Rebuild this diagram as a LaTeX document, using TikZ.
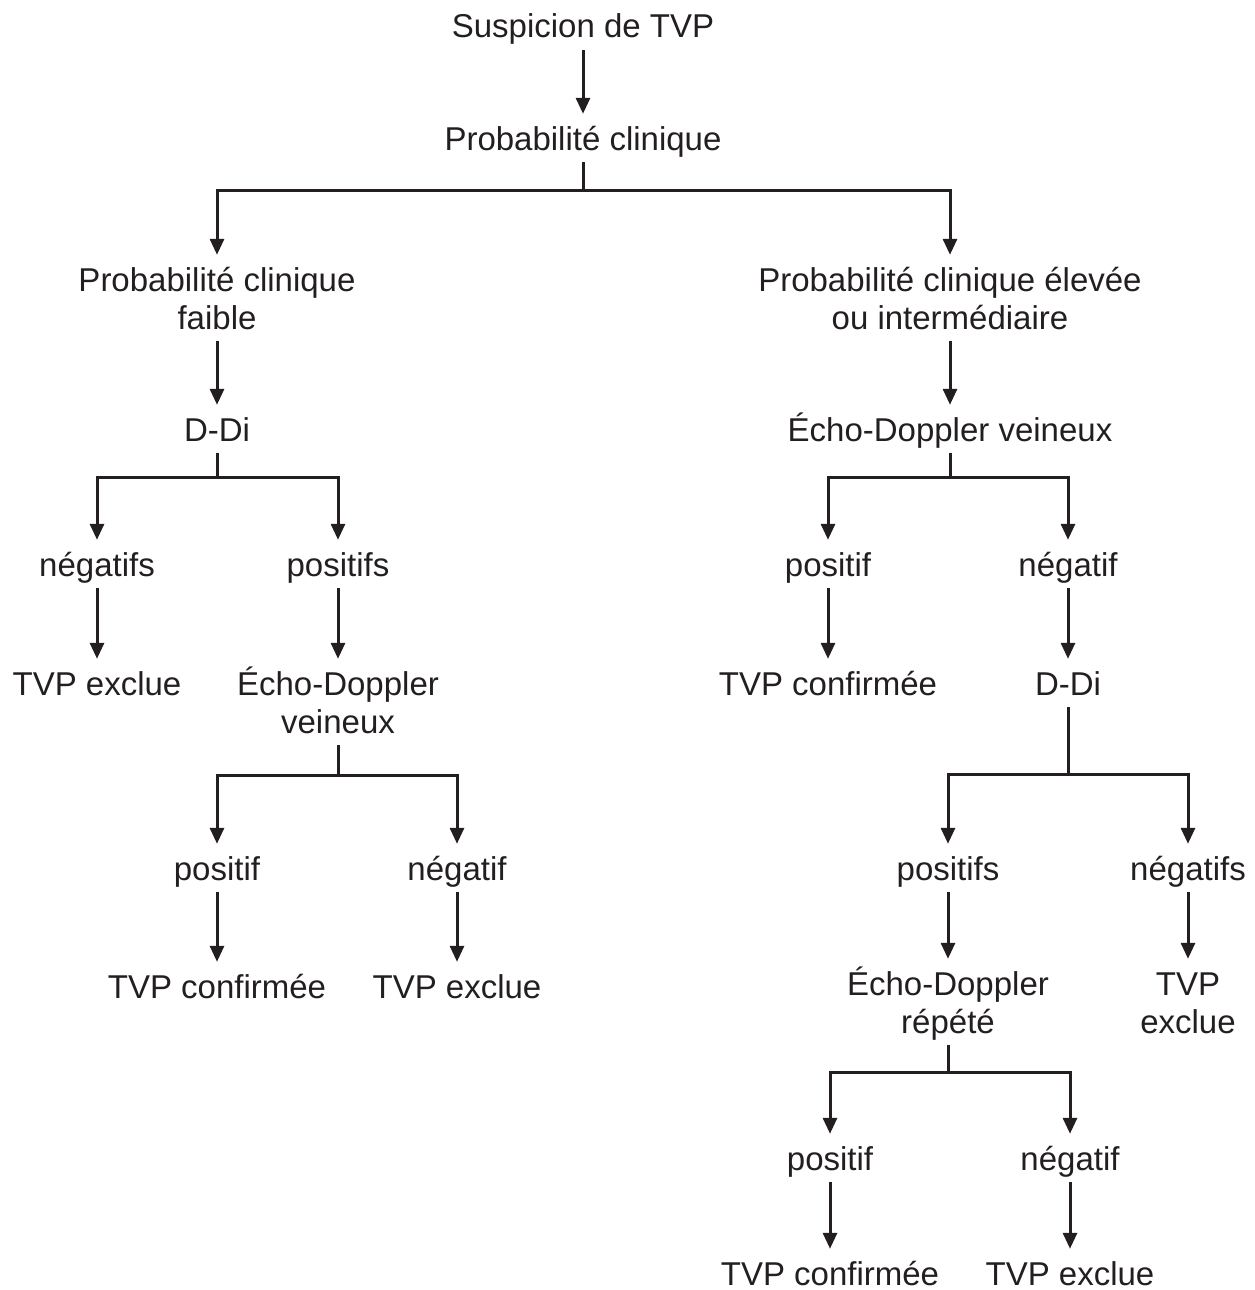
\documentclass[tikz,border=0pt]{standalone}
\usepackage{fontspec}
\setmainfont{Liberation Sans}
\usetikzlibrary{arrows.meta}
\definecolor{ink}{HTML}{231F20}
\newcommand\twol[2]{\begin{tabular}[b]{@{}c@{}}#1\\#2\end{tabular}}
\begin{document}
\begin{tikzpicture}[x=1pt,y=1pt,
 lbl/.style={font=\fontsize{33}{38}\selectfont, text=ink, text height=24pt, text depth=0pt, inner xsep=2pt, inner ysep=12pt, anchor=base},
 two/.style={lbl, text height=62pt},
 arr/.style={draw=ink, line width=3pt, -{Triangle[length=16pt,width=14pt]}}]
\useasboundingbox (0,0) rectangle (1254,-1290);
\node[lbl] (s) at (583,-38) {Suspicion de TVP};
\node[lbl] (p) at (583,-150) {Probabilité clinique};
\node[two] (f) at (217,-329) {\twol{Probabilité clinique}{faible}};
\node[two] (e) at (950,-329) {\twol{Probabilité clinique élevée}{ou intermédiaire}};
\node[lbl] (d1) at (217,-441) {D-Di};
\node[lbl] (e1) at (950,-441) {Écho-Doppler veineux};
\node[lbl] (n1) at (97,-576) {négatifs};
\node[lbl] (p1) at (338,-576) {positifs};
\node[lbl] (x1) at (97,-695) {TVP exclue};
\node[two] (e2) at (338,-733) {\twol{Écho-Doppler}{veineux}};
\node[lbl] (p2) at (217,-880) {positif};
\node[lbl] (n2) at (457,-880) {négatif};
\node[lbl] (c2) at (217,-998) {TVP confirmée};
\node[lbl] (x2) at (457,-998) {TVP exclue};
\node[lbl] (p3) at (828,-576) {positif};
\node[lbl] (n3) at (1068,-576) {négatif};
\node[lbl] (c3) at (828,-695) {TVP confirmée};
\node[lbl] (d3) at (1068,-695) {D-Di};
\node[lbl] (p4) at (948,-880) {positifs};
\node[lbl] (n4) at (1188,-880) {négatifs};
\node[two] (e4) at (948,-1033) {\twol{Écho-Doppler}{répété}};
\node[two] (x4) at (1188,-1033) {\twol{TVP}{exclue}};
\node[lbl] (p5) at (830,-1170) {positif};
\node[lbl] (n5) at (1070,-1170) {négatif};
\node[lbl] (c5) at (830,-1285) {TVP confirmée};
\node[lbl] (x5) at (1070,-1285) {TVP exclue};
\draw[arr] (s) -- (p);
\draw[arr] (p.south) -- ++(0,-28) -| (f.north);
\draw[arr] (p.south) -- ++(0,-28) -| (e.north);
\draw[arr] (f) -- (d1);
\draw[arr] (e) -- (e1);
\draw[arr] (d1.south) -- ++(0,-24) -| (n1.north);
\draw[arr] (d1.south) -- ++(0,-24) -| (p1.north);
\draw[arr] (n1) -- (x1);
\draw[arr] (p1) -- (e2);
\draw[arr] (e2.south) -- ++(0,-30) -| (p2.north);
\draw[arr] (e2.south) -- ++(0,-30) -| (n2.north);
\draw[arr] (p2) -- (c2);
\draw[arr] (n2) -- (x2);
\draw[arr] (e1.south) -- ++(0,-24) -| (p3.north);
\draw[arr] (e1.south) -- ++(0,-24) -| (n3.north);
\draw[arr] (p3) -- (c3);
\draw[arr] (n3) -- (d3);
\draw[arr] (d3.south) -- ++(0,-67) -| (p4.north);
\draw[arr] (d3.south) -- ++(0,-67) -| (n4.north);
\draw[arr] (p4) -- (e4);
\draw[arr] (n4) -- (x4);
\draw[arr] (e4.south) -- ++(0,-27) -| (p5.north);
\draw[arr] (e4.south) -- ++(0,-27) -| (n5.north);
\draw[arr] (p5) -- (c5);
\draw[arr] (n5) -- (x5);
\end{tikzpicture}
\end{document}
